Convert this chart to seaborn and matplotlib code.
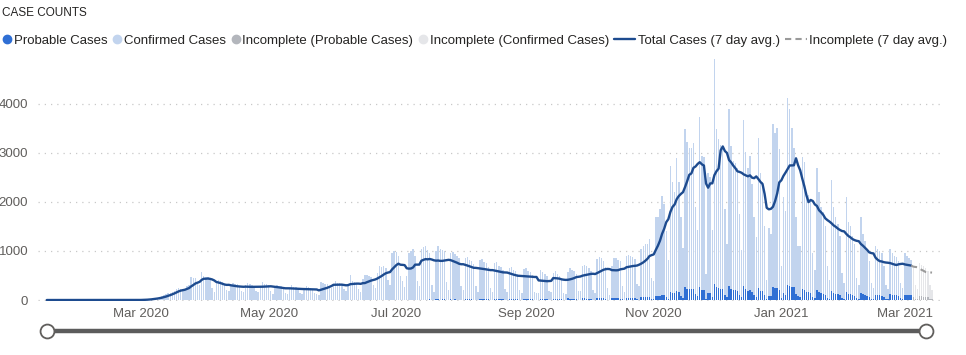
import numpy as np
import pandas as pd
import matplotlib
matplotlib.use("Agg")
import matplotlib.pyplot as plt
from matplotlib.lines import Line2D
import seaborn as sns

start_date = "2020-01-16"
incomplete_from = "2021-03-05"

# daily totals (probable + confirmed); first row Thu-Sun, then Mon-Sun weeks
total_cases = [
    0, 0, 0, 0,
    0, 0, 0, 0, 0, 0, 0,
    0, 0, 0, 0, 0, 0, 0,
    0, 0, 0, 0, 0, 0, 0,
    0, 0, 0, 0, 0, 0, 0,
    0, 0, 0, 0, 0, 0, 0,
    0, 0, 1, 1, 2, 3, 2,
    8, 12, 18, 24, 30, 40, 43,
    50, 65, 80, 100, 120, 150, 135,
    170, 190, 220, 250, 230, 210, 200,
    290, 310, 460, 440, 450, 330, 310,
    570, 480, 460, 470, 400, 250, 170,
    350, 400, 380, 360, 300, 200, 180,
    280, 350, 330, 320, 270, 180, 160,
    300, 340, 320, 310, 280, 180, 160,
    290, 360, 330, 330, 300, 190, 125,
    260, 310, 290, 280, 260, 150, 130,
    250, 300, 270, 260, 230, 140, 125,
    240, 280, 260, 250, 220, 140, 115,
    110, 370, 350, 330, 330, 260, 245,
    290, 380, 350, 340, 330, 220, 190,
    320, 510, 380, 370, 350, 220, 160,
    420, 520, 510, 480, 470, 300, 240,
    560, 700, 680, 690, 650, 400, 310,
    950, 1000, 980, 900, 500, 380, 270,
    500, 950, 1000, 1050, 900, 380, 280,
    1050, 1080, 1100, 1020, 950, 300, 170,
    1000, 1100, 1050, 1020, 1000, 360, 210,
    950, 980, 930, 900, 850, 290, 210,
    860, 880, 820, 800, 740, 280, 170,
    820, 830, 780, 750, 680, 240, 170,
    760, 780, 700, 680, 620, 220, 160,
    660, 670, 620, 600, 540, 200, 140,
    640, 650, 600, 570, 520, 170, 140,
    150, 620, 570, 540, 500, 190, 160,
    560, 600, 540, 500, 400, 140, 130,
    580, 660, 620, 600, 540, 180, 180,
    700, 720, 690, 660, 600, 200, 140,
    840, 880, 860, 800, 680, 240, 110,
    700, 860, 850, 820, 800, 290, 160,
    900, 920, 900, 880, 840, 320, 280,
    1050, 1100, 1140, 1150, 1240, 450, 380,
    1690, 1700, 1860, 2130, 1960, 1400, 810,
    2740, 2400, 2200, 2900, 2400, 1700, 1060,
    3490, 3230, 3100, 3100, 3200, 1890, 1420,
    3740, 2930, 2920, 540, 2600, 2500, 1430,
    4910, 3490, 3290, 3160, 3150, 1850, 1150,
    3900, 3150, 2840, 2790, 2700, 1760, 1030,
    3670, 3010, 2700, 2930, 2370, 1690, 1280,
    3300, 2600, 2400, 1500, 400, 1470, 1350,
    3600, 3400, 3500, 3080, 700, 2100, 1820,
    4120, 3900, 3500, 3100, 1700, 1100, 1100,
    2920, 2810, 2200, 2150, 2010, 950, 610,
    2700, 2200, 1900, 1800, 1500, 700, 400,
    2450, 1900, 1700, 1550, 1300, 550, 350,
    2100, 1600, 1500, 1300, 1150, 450, 300,
    1700, 1350, 1200, 1000, 800, 350, 250,
    1100, 1050, 1000, 950, 700, 300, 220,
    1050, 950, 900, 880, 800, 350, 250,
    950, 900, 850, 820, 650, 300, 220,
    750, 720, 700, 650, 600, 300, 200,
]

probable_cases = [
    0, 0, 0, 0,
    0, 0, 0, 0, 0, 0, 0,
    0, 0, 0, 0, 0, 0, 0,
    0, 0, 0, 0, 0, 0, 0,
    0, 0, 0, 0, 0, 0, 0,
    0, 0, 0, 0, 0, 0, 0,
    0, 0, 0, 0, 0, 0, 0,
    0, 0, 0, 0, 0, 0, 0,
    0, 0, 0, 0, 0, 0, 0,
    0, 0, 0, 0, 0, 0, 0,
    0, 0, 0, 0, 0, 0, 0,
    0, 0, 0, 0, 0, 0, 0,
    0, 0, 0, 0, 0, 0, 0,
    0, 0, 0, 0, 0, 0, 0,
    0, 0, 0, 0, 0, 0, 0,
    0, 0, 0, 0, 0, 0, 0,
    0, 0, 0, 0, 0, 0, 0,
    0, 0, 0, 0, 0, 0, 0,
    0, 0, 0, 0, 0, 0, 0,
    0, 0, 0, 0, 0, 0, 0,
    0, 0, 0, 0, 0, 0, 0,
    0, 0, 0, 0, 0, 0, 0,
    0, 0, 0, 0, 0, 0, 0,
    0, 0, 0, 0, 0, 0, 0,
    0, 0, 0, 0, 0, 0, 0,
    0, 0, 0, 0, 0, 0, 0,
    0, 0, 0, 0, 15, 10, 5,
    20, 15, 10, 12, 15, 5, 3,
    15, 10, 12, 10, 8, 5, 3,
    18, 20, 15, 12, 10, 5, 5,
    20, 25, 20, 15, 12, 6, 4,
    22, 20, 18, 15, 14, 6, 5,
    25, 22, 20, 18, 15, 8, 5,
    30, 25, 22, 20, 18, 8, 6,
    5, 30, 28, 25, 20, 8, 6,
    30, 28, 25, 22, 20, 8, 5,
    32, 30, 28, 25, 22, 8, 6,
    35, 32, 30, 28, 25, 10, 6,
    40, 38, 35, 32, 28, 10, 8,
    42, 40, 38, 35, 30, 12, 8,
    50, 45, 42, 40, 35, 15, 10,
    60, 58, 55, 60, 65, 25, 15,
    80, 75, 85, 100, 95, 60, 30,
    170, 150, 140, 180, 160, 90, 50,
    260, 230, 220, 220, 230, 120, 80,
    270, 200, 210, 30, 150, 140, 70,
    330, 260, 240, 230, 220, 110, 60,
    290, 230, 200, 200, 190, 110, 60,
    280, 220, 190, 210, 170, 110, 70,
    250, 190, 180, 110, 25, 90, 80,
    270, 240, 240, 200, 50, 140, 110,
    300, 280, 270, 260, 120, 80, 70,
    220, 210, 160, 160, 150, 60, 40,
    200, 160, 140, 130, 110, 50, 30,
    190, 150, 130, 120, 100, 40, 25,
    170, 130, 120, 100, 90, 35, 25,
    150, 120, 100, 90, 70, 30, 20,
    110, 100, 95, 90, 70, 25, 20,
    120, 110, 100, 95, 85, 35, 25,
    110, 105, 100, 95, 70, 30, 25,
    80, 75, 70, 65, 60, 30, 20,
]

month_ticks = ["2020-03-01", "2020-05-01", "2020-07-01", "2020-09-01",
               "2020-11-01", "2021-01-01", "2021-03-01"]
month_labels = ["Mar 2020", "May 2020", "Jul 2020", "Sep 2020",
                "Nov 2020", "Jan 2021", "Mar 2021"]

C_PROB = "#2f6fd4"
C_CONF = "#c2d4ee"
C_INC_PROB = "#b3b6bc"
C_INC_CONF = "#e5e6e9"
C_LINE = "#1d4b8f"
C_GREY = "#605e5c"

n = len(total_cases)
df = pd.DataFrame({
    "date": pd.date_range(start_date, periods=n, freq="D"),
    "day": np.arange(n),
    "total": total_cases,
    "probable": probable_cases,
})
df["confirmed"] = df["total"] - df["probable"]
df["avg7"] = df["total"].rolling(7, min_periods=1).mean()
cut = (pd.Timestamp(incomplete_from) - pd.Timestamp(start_date)).days
done = df[df.day < cut]
inc = df[df.day >= cut]

sns.set_style("white")
plt.rcParams["font.family"] = ["Liberation Sans", "DejaVu Sans"]

fig = plt.figure(figsize=(9.66, 3.55), dpi=100)
ax = fig.add_axes([38 / 966, 54 / 355, 902 / 966, 251 / 355])

# stacked look: total bar in light colour, probable drawn over its base
bar_kw = dict(native_scale=True, width=0.68, saturation=1, errorbar=None,
              linewidth=0, edgecolor="none", ax=ax)
sns.barplot(data=done, x="day", y="total", color=C_CONF, **bar_kw)
sns.barplot(data=done, x="day", y="probable", color=C_PROB, **bar_kw)
sns.barplot(data=inc, x="day", y="total", color=C_INC_CONF, **bar_kw)
sns.barplot(data=inc, x="day", y="probable", color=C_INC_PROB, **bar_kw)

sns.lineplot(data=df[df.day <= cut - 1], x="day", y="avg7", color=C_LINE,
             linewidth=1.7, errorbar=None, ax=ax)
sns.lineplot(data=df[df.day >= cut - 1], x="day", y="avg7", color="#9a9a9a",
             linewidth=1.5, linestyle=(0, (3, 2)), errorbar=None, ax=ax)

ax.set_xlim(-4.2, 426.8)
ax.set_ylim(-20, 5100)
ax.set_yticks([0, 1000, 2000, 3000, 4000])
tick_days = [(pd.Timestamp(d) - pd.Timestamp(start_date)).days for d in month_ticks]
ax.set_xticks(tick_days, month_labels)
ax.grid(axis="y", color="#c8c8c8", linestyle=(0, (1, 4)), linewidth=0.9)
ax.grid(axis="x", visible=False)
ax.tick_params(axis="both", length=0, labelsize=9.5, labelcolor=C_GREY)
ax.tick_params(axis="y", pad=7)
ax.tick_params(axis="x", pad=5)
ax.set_xlabel("")
ax.set_ylabel("")
sns.despine(ax=ax, left=True, bottom=True)

fig.text(2 / 966, 1 - 13 / 355, "CASE COUNTS", fontsize=8.5, va="center",
         color="#252423")

# legend: dots for bars, then line handles
def dot(c):
    return Line2D([], [], marker="o", linestyle="", markersize=6, color=c)

h1 = [dot(C_PROB), dot(C_CONF), dot(C_INC_PROB), dot(C_INC_CONF)]
l1 = ["Probable Cases", "Confirmed Cases", "Incomplete (Probable Cases)",
      "Incomplete (Confirmed Cases)"]
h2 = [Line2D([], [], color=C_LINE, linewidth=1.7),
      Line2D([], [], color="#9a9a9a", linewidth=1.5, linestyle=(0, (3, 2)))]
l2 = ["Total Cases (7 day avg.)", "Incomplete (7 day avg.)"]
leg_kw = dict(frameon=False, fontsize=9.5, handletextpad=0.2, columnspacing=0.45,
              borderpad=0, borderaxespad=0, labelcolor="#252423")
ly = 1 - 41 / 355
leg1 = fig.legend(h1, l1, loc="center left", bbox_to_anchor=(3 / 966, ly),
                  ncol=4, handlelength=0.6, **leg_kw)
fig.canvas.draw()
bb = leg1.get_window_extent()
leg2 = fig.legend(h2, l2, loc="center left",
                  bbox_to_anchor=(bb.x1 / fig.bbox.width + 5 / 966, ly),
                  ncol=2, handlelength=1.6, **leg_kw)

# range slider under the axis
ys = 1 - 331 / 355
fig.add_artist(Line2D([47 / 966, 926 / 966], [ys, ys], transform=fig.transFigure,
                      color="#5c5c5c", linewidth=3.2, solid_capstyle="butt"))
for xk in (47, 926):
    fig.add_artist(Line2D([xk / 966], [ys], transform=fig.transFigure, marker="o",
                          markersize=10, markerfacecolor="white",
                          markeredgecolor=C_GREY, markeredgewidth=1.3,
                          linestyle=""))

fig.savefig("out.png", dpi=100)
